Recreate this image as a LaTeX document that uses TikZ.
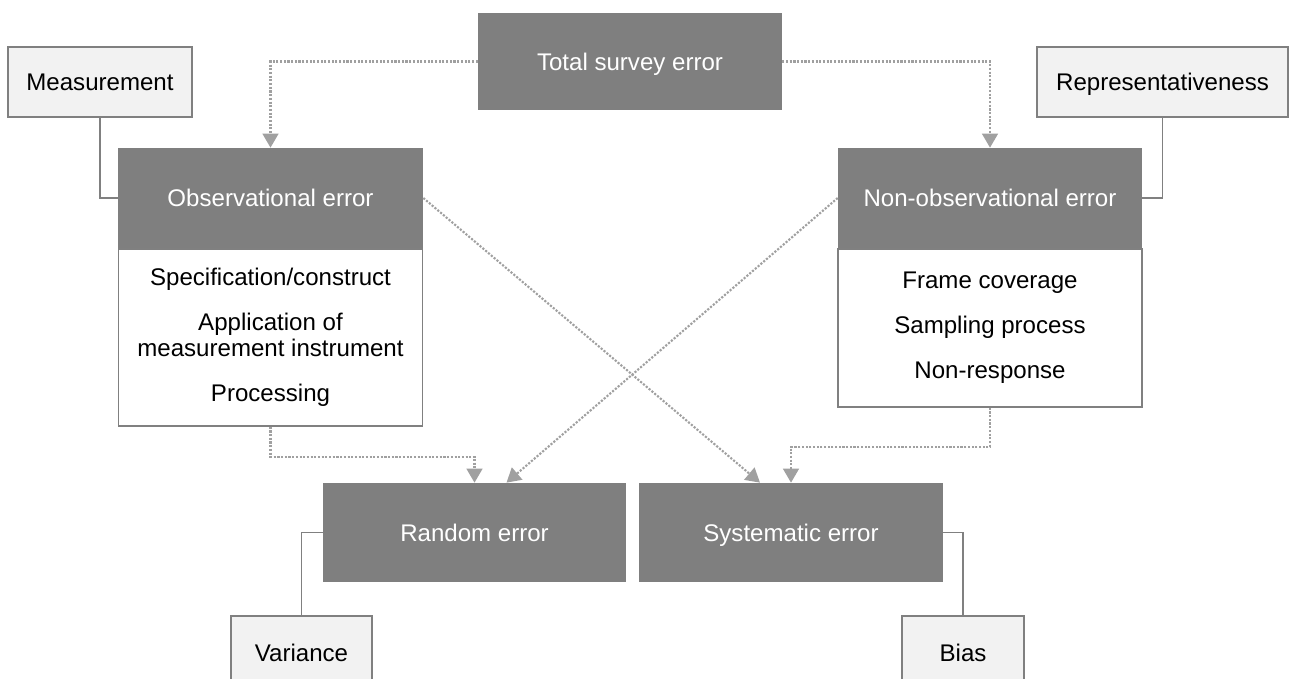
\documentclass[tikz,border=0pt]{standalone}
\usepackage{fontspec}
\setmainfont{Liberation Sans}
\usepackage{xcolor}
\usepackage{tikz}
\usetikzlibrary{arrows.meta,positioning,calc}

\definecolor{boxgray}{RGB}{127,127,127}
\definecolor{paleback}{RGB}{242,242,242}
\definecolor{edgegray}{RGB}{128,128,128}
\definecolor{dotgray}{RGB}{160,160,160}

\begin{document}
\begin{tikzpicture}[x=0.02cm,y=-0.02cm,
	font=\fontsize{13.7}{14.8}\selectfont,
	darkbox/.style={fill=boxgray,text=white,inner sep=0pt,text height=2.25ex,text depth=0.4ex,
		minimum width=6.08cm,minimum height=1.96cm},
	palebox/.style={fill=paleback,draw=edgegray,line width=1pt,inner sep=0pt,text height=2.25ex,text depth=0.4ex,
		minimum height=1.4cm},
	listbox/.style={fill=white,draw=edgegray,line width=1pt,inner sep=0pt,minimum width=6.08cm,align=center},
	link/.style={draw=edgegray,line width=1pt},
	flow/.style={draw=dotgray,line width=1.2pt,dash pattern=on 1.2pt off 0.9pt,
		-{Triangle[length=8pt,width=9pt,fill=dotgray]}}]
	\clip (0,0) rectangle (1294,679);
	\fill[white] (0,0) rectangle (1294,679);
	
	% top row
	\node[darkbox,minimum height=1.94cm] (total) at (630,61.5) {Total survey error};
	\node[palebox,minimum width=3.68cm] (meas) at (100,82) {Measurement};
	\node[palebox,minimum width=5.02cm] (repr) at (1162.5,82) {Representativeness};
	
	% the two error sources
	\node[listbox,minimum height=3.54cm,anchor=north] (obslist) at (270.5,248)
		{Specification/construct\\[11pt] Application of\\ measurement instrument\\[11pt] Processing};
	\node[darkbox,minimum width=6.1cm,minimum height=2cm] (obs) at (270.5,198) {Observational error};
	\node[listbox,minimum height=3.16cm,anchor=north] (nonobslist) at (990,248)
		{Frame coverage\\[11pt] Sampling process\\[11pt] Non-response};
	\node[darkbox,minimum height=2cm] (nonobs) at (990,198) {Non-observational error};
	
	% bottom row
	\node[darkbox,minimum width=6.06cm,minimum height=1.98cm] (random) at (474.5,532.5) {Random error};
	\node[darkbox,minimum height=1.98cm] (syst) at (791,532.5) {Systematic error};
	\node[palebox,minimum width=2.82cm,minimum height=1.48cm,anchor=north] (var) at (301.5,615) {Variance};
	\node[palebox,minimum width=2.44cm,minimum height=1.48cm,anchor=north] (bias) at (963,615) {Bias};
	
	% solid links
	\draw[link] (meas.south) |- (obs.west);
	\draw[link] (repr.south) |- (nonobs.east);
	\draw[link] (random.west) -| (var.north);
	\draw[link] (syst.east) -| (bias.north);
	
	% dotted arrows
	\draw[flow] (total.west) -| (obs.north);
	\draw[flow] (total.east) -| (nonobs.north);
	\draw[flow] (obslist.south) -- ++(0,30) -| (random.north);
	\draw[flow] (nonobslist.south) -- ++(0,39) -| (syst.north);
	\draw[flow] (obs.east) -- ($(syst.north)+(-31,0)$);
	\draw[flow] (nonobs.west) -- ($(random.north)+(32,0)$);
\end{tikzpicture}
\end{document}
